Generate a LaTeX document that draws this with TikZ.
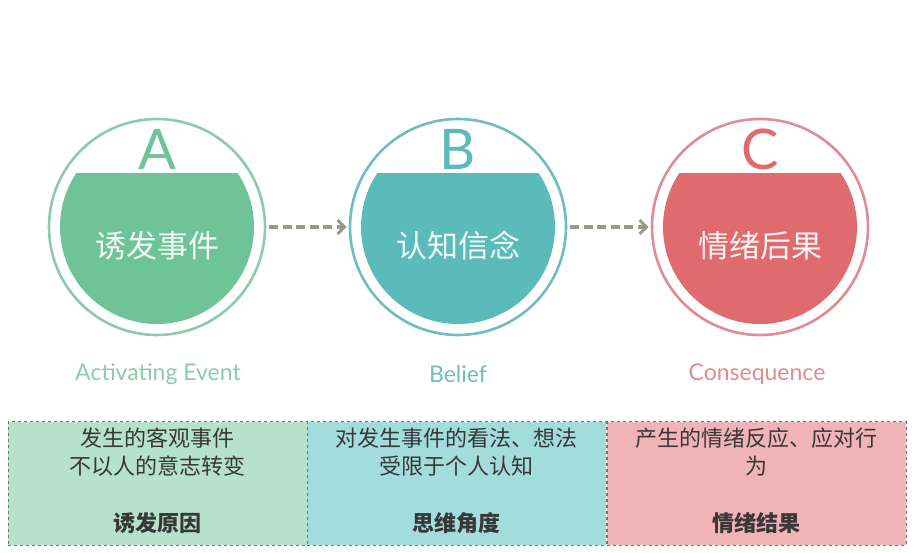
\documentclass[tikz,border=0pt]{standalone}
\usepackage{fontspec}
\setmainfont{Lato}
\newfontfamily\cjk{Noto Sans CJK SC}
\usetikzlibrary{arrows.meta}
\definecolor{fillA}{HTML}{6EC498}
\definecolor{ringA}{HTML}{8DCBAF}
\definecolor{fillB}{HTML}{5BBBBB}
\definecolor{ringB}{HTML}{6FBDC0}
\definecolor{fillC}{HTML}{E06B6F}
\definecolor{ringC}{HTML}{E08C91}
\definecolor{boxA}{HTML}{B6E2CB}
\definecolor{boxB}{HTML}{A3DCDC}
\definecolor{boxC}{HTML}{F0B3B8}
\definecolor{arrowcol}{HTML}{9A9886}
\definecolor{txt}{HTML}{383838}
\tikzset{
  ring/.style={circle, draw=#1, line width=2.6pt, minimum size=216pt, inner sep=0pt},
  letter/.style={text=#1, font=\fontsize{56}{56}\selectfont, inner sep=0pt},
  incirc/.style={text=white!92!#1, font=\cjk\fontsize{31}{31}\selectfont, inner sep=0pt},
  caption/.style={text=#1, font=\fontsize{23}{23}\selectfont, inner sep=0pt},
  flow/.style={arrowcol, line width=3.2pt, dash pattern=on 9pt off 4.5pt, shorten <=3pt, shorten >=2pt, -{Straight Barb[length=7pt,width=14pt,line width=3pt]}},
  infobox/.style={draw=black!55, dashed, line width=1pt, fill=#1, minimum width=299pt, minimum height=123pt, inner sep=0pt},
  boxtext/.style={text=txt, font=\cjk\fontsize{22}{28}\selectfont, align=center, inner sep=0pt},
  boxtitle/.style={text=txt, font=\cjk\bfseries\fontsize{22}{22}\selectfont, inner sep=0pt}
}
\begin{document}
\begin{tikzpicture}[x=1pt, y=-1pt]
\useasboundingbox[fill=white] (0,0) rectangle (919,553);
% circles
\foreach \cx/\k in {157/A, 458/B, 760/C}{
  \begin{scope}
    \clip (\cx-110,174) rectangle (\cx+110,340);
    \fill[fill\k] (\cx,227) circle[radius=97];
  \end{scope}
}
\node[ring=ringA] (cA) at (157,227) {};
\node[ring=ringB] (cB) at (458,227) {};
\node[ring=ringC] (cC) at (760,227) {};
\node[letter=fillA, anchor=base] (lA) at (157,170) {A};
\node[letter=fillB, anchor=base] (lB) at (458,170) {B};
\node[letter=fillC, anchor=base] (lC) at (760,170) {C};
\node[incirc=fillA] (tA) at (157,246) {诱发事件};
\node[incirc=fillB] (tB) at (458,246) {认知信念};
\node[incirc=fillC] (tC) at (760,246) {情绪后果};
\node[caption=ringA] (capA) at (158,374) {Activating Event};
\node[caption=ringB] (capB) at (458,374) {Belief};
\node[caption=ringC] (capC) at (757,374) {Consequence};
\draw[flow] (cA.east) -- (cB.west);
\draw[flow] (cB.east) -- (cC.west);
% boxes
\node[infobox=boxA] (bA) at (157.5,483.5) {};
\node[infobox=boxB] (bB) at (456.5,483.5) {};
\node[infobox=boxC] (bC) at (756.5,483.5) {};
\node[boxtext] (xA) at (157.5,452) {发生的客观事件\\不以人的意志转变};
\node[boxtext] (xB) at (456.5,452) {对发生事件的看法、想法\\受限于个人认知};
\node[boxtext] (xC) at (756.5,452) {产生的情绪反应、应对行\\为};
\node[boxtitle] (yA) at (157.5,523) {诱发原因};
\node[boxtitle] (yB) at (456.5,523) {思维角度};
\node[boxtitle] (yC) at (756.5,523) {情绪结果};
\end{tikzpicture}
\end{document}
